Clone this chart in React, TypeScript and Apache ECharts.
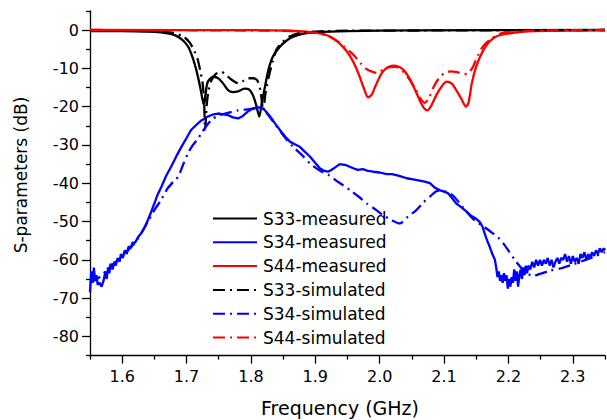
import React, { useEffect, useRef } from "react";
import * as echarts from "echarts";

// Frequency grid (GHz) and S-parameter magnitudes (dB) for each trace
const s33MeasFreq = [1.55, 1.6, 1.64, 1.66, 1.675, 1.685, 1.695, 1.703, 1.71, 1.716, 1.721, 1.725, 1.727, 1.729, 1.732, 1.736, 1.742, 1.75, 1.757, 1.764, 1.772, 1.78, 1.79, 1.797, 1.803, 1.808, 1.813, 1.817, 1.821, 1.827, 1.834, 1.845, 1.855, 1.865, 1.88, 1.9, 1.95, 2.05, 2.35];
const s33MeasDb = [-0.3, -0.3, -0.4, -0.6, -1.0, -1.6, -2.8, -4.5, -7.5, -11, -14.8, -18.3, -19.5, -17.5, -14, -12.8, -12.2, -12.7, -14, -15.6, -16.2, -16, -15.3, -15.5, -17, -19.5, -22.6, -19, -15.5, -10.5, -7, -4.4, -2.8, -1.8, -1, -0.6, -0.3, -0.1, 0];

const s34MeasFreq = [1.55, 1.552, 1.554, 1.556, 1.558, 1.56, 1.562, 1.565, 1.568, 1.571, 1.574, 1.576, 1.578, 1.58, 1.582, 1.585, 1.588, 1.59, 1.593, 1.596, 1.598, 1.601, 1.604, 1.607, 1.61, 1.613, 1.616, 1.62, 1.625, 1.63, 1.635, 1.64, 1.645, 1.65, 1.655, 1.661, 1.668, 1.676, 1.684, 1.692, 1.7, 1.707, 1.715, 1.723, 1.733, 1.742, 1.749, 1.757, 1.764, 1.772, 1.78, 1.787, 1.795, 1.803, 1.81, 1.817, 1.823, 1.83, 1.838, 1.845, 1.853, 1.861, 1.869, 1.876, 1.884, 1.892, 1.9, 1.907, 1.914, 1.92, 1.928, 1.938, 1.948, 1.959, 1.966, 1.974, 1.982, 1.99, 2.0, 2.011, 2.019, 2.026, 2.034, 2.042, 2.052, 2.062, 2.07, 2.078, 2.086, 2.093, 2.1, 2.106, 2.112, 2.119, 2.127, 2.135, 2.142, 2.15, 2.156, 2.16, 2.163, 2.167, 2.171, 2.175, 2.179, 2.181, 2.183, 2.185, 2.187, 2.189, 2.191, 2.193, 2.195, 2.197, 2.199, 2.201, 2.203, 2.205, 2.207, 2.209, 2.211, 2.213, 2.215, 2.217, 2.219, 2.221, 2.223, 2.225, 2.227, 2.229, 2.231, 2.234, 2.237, 2.24, 2.243, 2.246, 2.249, 2.252, 2.255, 2.258, 2.261, 2.264, 2.267, 2.27, 2.273, 2.276, 2.279, 2.282, 2.285, 2.288, 2.291, 2.294, 2.297, 2.3, 2.303, 2.306, 2.309, 2.312, 2.315, 2.318, 2.321, 2.324, 2.327, 2.33, 2.333, 2.336, 2.339, 2.342, 2.345, 2.348, 2.35];
const s34MeasDb = [-68.5, -63, -66, -62, -65.5, -64, -66.5, -66, -67, -65.5, -63, -65, -62, -63.5, -61, -62.5, -60.5, -61.5, -59.5, -60.5, -58.5, -59.5, -57.5, -58.5, -56.5, -57, -55.5, -55.5, -54, -53, -51.5, -49.6, -47.5, -45.3, -43, -40.9, -38.2, -35.7, -33, -30.5, -28.2, -26.1, -24.8, -23.6, -22.6, -22, -21.8, -22, -22.2, -22.8, -23.1, -22.5, -21.3, -20.5, -20.2, -20.3, -21.2, -22.6, -24.5, -26.1, -27.8, -29.2, -29.9, -30.5, -31.8, -33.1, -34.7, -36.1, -36.8, -37, -36.2, -35, -35.3, -36.1, -36.5, -36.3, -36.8, -37, -37.2, -37.6, -37.6, -37.9, -38.3, -38.7, -39, -39.3, -39.6, -40, -41.2, -41.8, -42.2, -42.6, -43.8, -45.3, -46.3, -47.4, -48.5, -49.3, -50.2, -51.5, -53.1, -55, -56.6, -58.5, -60, -62, -64.5, -63, -65.5, -64, -66, -63.5, -65.5, -64, -67.5, -65, -67, -64.5, -66, -62.5, -65.5, -63, -67, -64, -62.5, -65, -62, -64, -61.5, -63.5, -61.5, -62.5, -60.5, -62, -60, -61.5, -60, -61.5, -60, -61, -59.5, -61.5, -60, -62, -60.5, -59.5, -61, -59.5, -60, -58.5, -60.5, -59, -61, -59, -60.5, -59.5, -61, -58.5, -59.5, -58, -60, -58.5, -59.5, -58, -59, -57.5, -58.5, -57, -58, -57, -57.5];

const s44MeasFreq = [1.55, 1.8, 1.86, 1.89, 1.907, 1.92, 1.928, 1.936, 1.943, 1.95, 1.956, 1.963, 1.969, 1.975, 1.982, 1.988, 1.993, 2.003, 2.012, 2.021, 2.03, 2.037, 2.044, 2.05, 2.056, 2.062, 2.068, 2.074, 2.08, 2.088, 2.096, 2.104, 2.112, 2.119, 2.127, 2.134, 2.138, 2.143, 2.149, 2.156, 2.162, 2.168, 2.175, 2.181, 2.19, 2.202, 2.22, 2.24, 2.28, 2.35];
const s44MeasDb = [0, -0.05, -0.2, -0.5, -0.9, -1.5, -2.2, -3.2, -4.4, -5.8, -7.4, -9.7, -12.2, -15, -17.6, -16.8, -14.8, -11.3, -9.8, -9.3, -9.6, -10.4, -12, -13.9, -16, -18.3, -20.2, -21, -19.8, -17, -14.8, -13.5, -14, -15.7, -18, -20, -19, -14, -10, -7, -5, -3.5, -2.4, -1.7, -1.2, -0.9, -0.5, -0.3, -0.15, -0.05];

const s33SimFreq = [1.55, 1.62, 1.66, 1.68, 1.695, 1.705, 1.712, 1.717, 1.721, 1.725, 1.727, 1.729, 1.731, 1.734, 1.739, 1.746, 1.754, 1.762, 1.77, 1.78, 1.788, 1.796, 1.804, 1.81, 1.815, 1.819, 1.823, 1.828, 1.834, 1.84, 1.85, 1.86, 1.875, 1.9, 1.95, 2.35];
const s33SimDb = [-0.1, -0.2, -0.4, -0.8, -1.7, -3.3, -5.5, -7.5, -10.4, -14, -18, -26, -20, -16, -13, -11.4, -10.9, -11.8, -13, -13.9, -13.3, -12.6, -12.6, -13.2, -16, -21, -16, -12, -8, -5, -3, -1.7, -0.8, -0.4, -0.2, 0];

const s34SimFreq = [1.55, 1.565, 1.58, 1.6, 1.62, 1.64, 1.65, 1.66, 1.67, 1.68, 1.687, 1.695, 1.702, 1.71, 1.717, 1.723, 1.731, 1.74, 1.75, 1.76, 1.77, 1.78, 1.79, 1.8, 1.81, 1.817, 1.825, 1.835, 1.845, 1.855, 1.865, 1.879, 1.894, 1.91, 1.92, 1.935, 1.954, 1.968, 1.98, 1.993, 2.005, 2.018, 2.031, 2.044, 2.057, 2.068, 2.078, 2.09, 2.105, 2.115, 2.13, 2.145, 2.163, 2.175, 2.184, 2.192, 2.2, 2.212, 2.225, 2.238, 2.25, 2.265, 2.282, 2.3, 2.32, 2.335, 2.35];
const s34SimDb = [-66, -64.5, -62, -59, -55.5, -50, -47, -44.5, -41.5, -39.5, -38.3, -35, -32.2, -30, -28.5, -27, -25, -23.3, -22.3, -21.8, -21.4, -21, -20.8, -20.6, -20.4, -20.5, -21.8, -24, -26.3, -28.5, -30.4, -32.6, -35.2, -37, -37.8, -39.6, -41.8, -43.6, -45.3, -46.8, -48.3, -49.6, -50.5, -48.7, -47, -45, -43.5, -42, -42.3, -43.4, -46.4, -49.3, -51.5, -53, -54.2, -55.7, -57.6, -60.5, -63, -64.2, -63.6, -62.8, -62.2, -61.2, -60, -59, -58];

const s44SimFreq = [1.55, 1.85, 1.9, 1.92, 1.935, 1.945, 1.955, 1.962, 1.97, 1.978, 1.987, 1.996, 2.005, 2.015, 2.025, 2.035, 2.045, 2.055, 2.063, 2.07, 2.077, 2.084, 2.092, 2.1, 2.11, 2.12, 2.13, 2.136, 2.141, 2.145, 2.149, 2.153, 2.16, 2.171, 2.187, 2.21, 2.25, 2.35];
const s44SimDb = [0, -0.2, -0.7, -1.6, -3, -4.4, -5.8, -7, -8.6, -10, -10.8, -11.2, -10.4, -9.7, -9.6, -10.6, -12.6, -15.2, -17.8, -19, -17.5, -14.8, -12.6, -11.3, -10.8, -11, -11.4, -11.5, -10.6, -9.6, -8, -6.5, -4.4, -2.6, -1, -0.4, -0.15, 0];

// Axis ticks
const xMajorTicks = [1.6, 1.7, 1.8, 1.9, 2.0, 2.1, 2.2, 2.3];
const xMinorTicks = [1.55, 1.65, 1.75, 1.85, 1.95, 2.05, 2.15, 2.25, 2.35];
const yMajorTicks = [0, -10, -20, -30, -40, -50, -60, -70, -80];
const yMinorTicks = [5, -5, -15, -25, -35, -45, -55, -65, -75, -85];

const FONT = "DejaVu Sans";
const DASH_DOT = [12, 5, 2, 5];

const zip = (xs: number[], ys: number[]) => xs.map((x, i) => [x, ys[i]]);

function lineSeries(name: string, color: string, data: number[][], dashed: boolean) {
  return {
    name,
    type: "line",
    data,
    xAxisIndex: 0,
    yAxisIndex: 0,
    showSymbol: false,
    symbol: "none",
    smooth: 0.25,
    lineStyle: { color, width: 2.3, type: dashed ? DASH_DOT : "solid" },
    itemStyle: { color },
  };
}

export default function App() {
  const ref = useRef<HTMLDivElement>(null);

  useEffect(() => {
    if (!ref.current) return;
    const chart = echarts.init(ref.current, null, { renderer: "svg" });
    const grid = { left: 90, right: 2, top: 10.85, bottom: 64.4 };
    const xCommon = { type: "value", min: 1.55, max: 2.35, gridIndex: 0, splitLine: { show: false } };
    const yCommon = { type: "value", min: -85, max: 5, gridIndex: 0, splitLine: { show: false } };

    chart.setOption({
      animation: false,
      backgroundColor: "#ffffff",
      grid,
      xAxis: [
        {
          ...xCommon,
          position: "bottom",
          axisLine: { show: true, onZero: false, lineStyle: { color: "#000", width: 1.3 } },
          axisTick: { show: true, inside: false, length: 8, customValues: xMajorTicks, lineStyle: { color: "#000", width: 1.3 } },
          axisLabel: {
            show: true,
            customValues: xMajorTicks,
            formatter: (v: number) => v.toFixed(1),
            color: "#000",
            fontFamily: FONT,
            fontSize: 16,
            margin: 13,
          },
        },
        {
          ...xCommon,
          position: "bottom",
          axisLine: { show: false, onZero: false },
          axisTick: { show: true, inside: false, length: 4, customValues: xMinorTicks, lineStyle: { color: "#000", width: 1.3 } },
          axisLabel: { show: false },
        },
      ],
      yAxis: [
        {
          ...yCommon,
          position: "left",
          axisLine: { show: true, onZero: false, lineStyle: { color: "#000", width: 1.3 } },
          axisTick: { show: true, inside: false, length: 8, customValues: yMajorTicks, lineStyle: { color: "#000", width: 1.3 } },
          axisLabel: {
            show: true,
            customValues: yMajorTicks,
            color: "#000",
            fontFamily: FONT,
            fontSize: 16,
            margin: 11,
          },
        },
        {
          ...yCommon,
          position: "left",
          axisLine: { show: false, onZero: false },
          axisTick: { show: true, inside: false, length: 4, customValues: yMinorTicks, lineStyle: { color: "#000", width: 1.3 } },
          axisLabel: { show: false },
        },
      ],
      legend: {
        orient: "vertical",
        left: 212,
        top: 210,
        itemWidth: 44,
        itemHeight: 14,
        itemGap: 6.8,
        padding: 0,
        itemStyle: { opacity: 0 },
        textStyle: { color: "#000", fontFamily: FONT, fontSize: 17, padding: [0, 0, 0, 1] },
        data: ["S33-measured", "S34-measured", "S44-measured", "S33-simulated", "S34-simulated", "S44-simulated"],
      },
      graphic: [
        {
          type: "text",
          x: 340,
          y: 408,
          style: {
            text: "Frequency (GHz)",
            fontFamily: FONT,
            fontSize: 19,
            fill: "#000",
            align: "center",
            verticalAlign: "middle",
          },
        },
        {
          type: "text",
          x: 21,
          y: 175,
          rotation: Math.PI / 2,
          style: {
            text: "S-parameters (dB)",
            fontFamily: FONT,
            fontSize: 17,
            fill: "#000",
            align: "center",
            verticalAlign: "middle",
          },
        },
      ],
      series: [
        lineSeries("S33-measured", "#000000", zip(s33MeasFreq, s33MeasDb), false),
        { ...lineSeries("S34-measured", "#0000ff", zip(s34MeasFreq, s34MeasDb), false), smooth: false },
        lineSeries("S44-measured", "#ff0000", zip(s44MeasFreq, s44MeasDb), false),
        lineSeries("S33-simulated", "#000000", zip(s33SimFreq, s33SimDb), true),
        lineSeries("S34-simulated", "#0000ff", zip(s34SimFreq, s34SimDb), true),
        lineSeries("S44-simulated", "#ff0000", zip(s44SimFreq, s44SimDb), true),
      ],
    });

    return () => chart.dispose();
  }, []);

  return <div ref={ref} style={{ width: 607, height: 420, position: "absolute", left: 0, top: 0 }} />;
}
